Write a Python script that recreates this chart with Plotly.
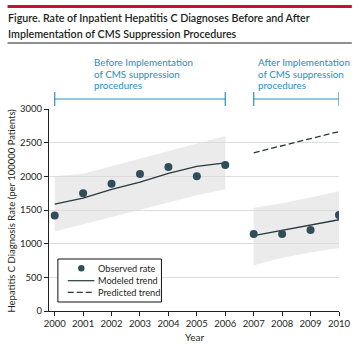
import plotly.graph_objects as go

# ---------------- data ----------------
years_before = [2000, 2001, 2002, 2003, 2004, 2005, 2006]
observed_before = [1420, 1750, 1890, 2035, 2140, 2000, 2168]
modeled_before = [1586, 1675, 1808, 1915, 2044, 2148, 2200]
upper_before = [2000, 2040, 2150, 2265, 2375, 2490, 2600]
lower_before = [1180, 1290, 1400, 1510, 1620, 1720, 1810]

years_after = [2007, 2008, 2009, 2010]
observed_after = [1145, 1145, 1202, 1425]
modeled_after = [1119, 1198, 1277, 1355]
upper_after = [1535, 1600, 1685, 1778]
lower_after = [680, 790, 870, 935]
predicted_after = [2350, 2455, 2560, 2665]

year_ticks = list(range(2000, 2011))
y_ticks = [0, 500, 1000, 1500, 2000, 2500, 3000]

title_lines = ["Figure. Rate of Inpatient Hepatitis C Diagnoses Before and After",
               "Implementation of CMS Suppression Procedures"]
before_lines = ["Before Implementation", "of CMS suppression", "procedures"]
after_lines = ["After Implementation", "of CMS suppression", "procedures"]
legend_labels = ["Observed rate", "Modeled trend", "Predicted trend"]

# ---------------- style ----------------
FONT = "Lato, Liberation Sans, sans-serif"
MARKER = "#2f4e59"
LINE = "#26393f"
BAND = "rgba(215,215,218,0.5)"
TEAL = "#2a8ec2"
RED = "#c41230"
TEXT = "#231f20"

W, H = 363, 352
ML, MR, MT, MB = 49, 20, 109, 41
PW, PH = W - ML - MR, H - MT - MB


def px(x):
    return (x - ML) / PW


def py(y):
    return (H - MB - y) / PH


fig = go.Figure()

# bands
fig.add_trace(go.Scatter(x=years_before, y=lower_before, mode="lines",
                         line=dict(width=0), hoverinfo="skip", showlegend=False))
fig.add_trace(go.Scatter(x=years_before, y=upper_before, mode="lines", fill="tonexty",
                         fillcolor=BAND, line=dict(width=0), hoverinfo="skip", showlegend=False))
fig.add_trace(go.Scatter(x=years_after, y=lower_after, mode="lines",
                         line=dict(width=0), hoverinfo="skip", showlegend=False))
fig.add_trace(go.Scatter(x=years_after, y=upper_after, mode="lines", fill="tonexty",
                         fillcolor=BAND, line=dict(width=0), hoverinfo="skip", showlegend=False))

# trends
fig.add_trace(go.Scatter(x=years_before, y=modeled_before, mode="lines",
                         line=dict(color=LINE, width=1.3), showlegend=False))
fig.add_trace(go.Scatter(x=years_after, y=modeled_after, mode="lines",
                         line=dict(color=LINE, width=1.3), showlegend=False))
fig.add_trace(go.Scatter(x=years_after, y=predicted_after, mode="lines",
                         line=dict(color=LINE, width=1.3, dash="6px,3px"), showlegend=False))

# observed
fig.add_trace(go.Scatter(x=years_before + years_after, y=observed_before + observed_after,
                         mode="markers", marker=dict(color=MARKER, size=8), showlegend=False))

shapes = []
annotations = []

# header: red bar, black rule
shapes.append(dict(type="rect", xref="paper", yref="paper", x0=px(7), x1=px(356),
                   y0=py(8), y1=py(5), fillcolor=RED, line=dict(width=0), layer="above"))
shapes.append(dict(type="line", xref="paper", yref="paper", x0=px(7), x1=px(356),
                   y0=py(43), y1=py(43), line=dict(color=TEXT, width=1)))
for i, t in enumerate(title_lines):
    annotations.append(dict(text=t, xref="paper", yref="paper", x=px(5), y=py(17 + 16.5 * i),
                            xanchor="left", yanchor="middle", showarrow=False,
                            font=dict(family=FONT, size=10.7, color=TEXT, weight=600)))

# period brackets
def bracket(x0, x1, yc=99):
    shapes.append(dict(type="line", xref="x", yref="paper", x0=x0, x1=x1, y0=py(yc), y1=py(yc),
                       line=dict(color=TEAL, width=1.2)))
    for xx in (x0, x1):
        shapes.append(dict(type="line", xref="x", yref="paper", x0=xx, x1=xx,
                           y0=py(yc - 7), y1=py(yc + 7), line=dict(color=TEAL, width=1.2)))


bracket(years_before[0], years_before[-1])
bracket(years_after[0], years_after[-1])

for lines, xl in ((before_lines, 93), (after_lines, 259)):
    for i, t in enumerate(lines):
        annotations.append(dict(text=t, xref="paper", yref="paper", x=px(xl), y=py(62 + 11.5 * i),
                                xanchor="left", yanchor="middle", showarrow=False,
                                font=dict(family=FONT, size=9.8, color=TEAL)))

# legend (drawn)
shapes.append(dict(type="rect", xref="paper", yref="paper", x0=px(58), x1=px(163),
                   y0=py(302), y1=py(259), fillcolor="white", line=dict(color="#111", width=1),
                   layer="above"))
shapes.append(dict(type="circle", xref="paper", yref="paper", x0=px(78.5), x1=px(85),
                   y0=py(271.5), y1=py(265), fillcolor=MARKER, line=dict(width=0), layer="above"))
shapes.append(dict(type="line", xref="paper", yref="paper", x0=px(68), x1=px(95),
                   y0=py(280.7), y1=py(280.7), line=dict(color=LINE, width=1.2), layer="above"))
shapes.append(dict(type="line", xref="paper", yref="paper", x0=px(68), x1=px(95),
                   y0=py(292.3), y1=py(292.3), line=dict(color=LINE, width=1.2, dash="6px,3px"),
                   layer="above"))
for i, t in enumerate(legend_labels):
    annotations.append(dict(text=t, xref="paper", yref="paper", x=px(97), y=py([268.3, 280.3, 292][i]),
                            xanchor="left", yanchor="middle", showarrow=False,
                            font=dict(family=FONT, size=9.2, color=TEXT)))

# axis titles
annotations.append(dict(text="Hepatitis C Diagnosis Rate (per 100000 Patients)", xref="paper",
                        yref="paper", x=px(10), y=py(211), textangle=-90, xanchor="center",
                        yanchor="middle", showarrow=False, font=dict(family=FONT, size=9.5, color=TEXT)))
annotations.append(dict(text="Year", xref="paper", yref="paper", x=px(197), y=py(337),
                        xanchor="center", yanchor="middle", showarrow=False,
                        font=dict(family=FONT, size=10, color=TEXT)))

fig.update_layout(
    width=W, height=H, margin=dict(l=ML, r=MR, t=MT, b=MB, pad=0),
    paper_bgcolor="white", plot_bgcolor="white",
    font=dict(family=FONT, size=10, color=TEXT),
    shapes=shapes, annotations=annotations, showlegend=False,
    xaxis=dict(range=[1999.8, 2010], tickvals=year_ticks, ticktext=[str(y) for y in year_ticks],
               showgrid=False, zeroline=False, showline=True, linecolor="#222", linewidth=1,
               ticks="outside", ticklen=4, tickcolor="#222", tickfont=dict(size=9.5, color=TEXT)),
    yaxis=dict(range=[0, 3000], tickvals=y_ticks, showgrid=True, gridcolor="#dedede", gridwidth=1,
               zeroline=False, showline=True, linecolor="#222", linewidth=1, ticks="outside",
               ticklen=4, tickcolor="#222", tickfont=dict(size=9.5, color=TEXT)),
)

fig.write_html("out.html")
